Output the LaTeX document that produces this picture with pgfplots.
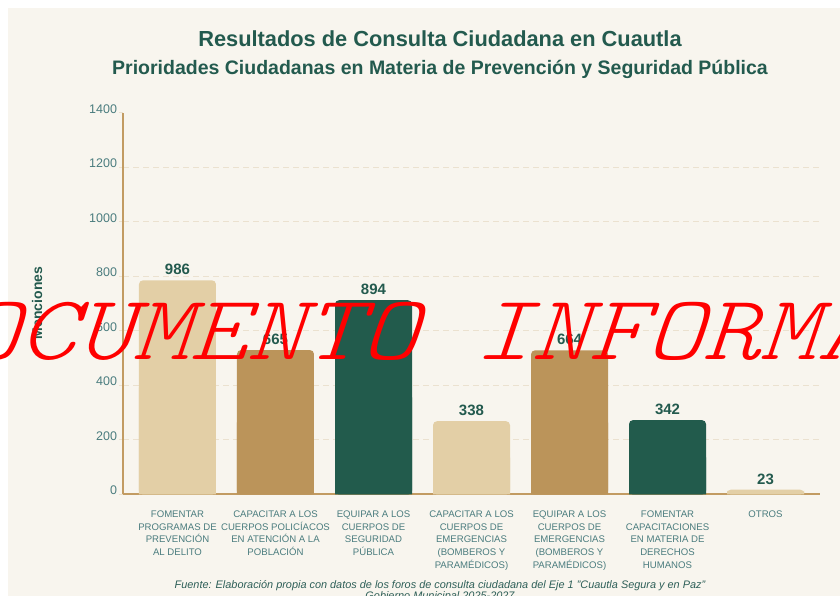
\documentclass[border=0pt]{standalone}
\usepackage{fontspec}
\setmainfont{Liberation Sans}
\newfontfamily\wmfont{lmmonolt10-oblique.otf}
\usepackage{pgfplots}
\pgfplotsset{compat=1.18}
\definecolor{bgc}{HTML}{F8F5EE}
\definecolor{titc}{HTML}{235A4E}
\definecolor{tickc}{HTML}{4A7C7E}
\definecolor{footc}{HTML}{2E5F58}
\definecolor{axc}{HTML}{C29B62}
\definecolor{gridc}{HTML}{EBE1CF}
\definecolor{lightb}{HTML}{E3CFA6}
\definecolor{tanb}{HTML}{BB945A}
\definecolor{greenb}{HTML}{225B4C}
\begin{document}
\begin{tikzpicture}[x=1bp,y=1bp]
\useasboundingbox (0,0) rectangle (840,596);
\clip (0,0) rectangle (840,596);
\fill[white] (0,0) rectangle (840,596);
\fill[bgc] (8,0) rectangle (840,588);
\node[font=\bfseries\fontsize{21.8bp}{22bp}\selectfont, text=titc, anchor=base] at (440,549) {Resultados de Consulta Ciudadana en Cuautla};
\node[font=\bfseries\fontsize{19.5bp}{20bp}\selectfont, text=titc, anchor=base] at (440,521) {Prioridades Ciudadanas en Materia de Prevención y Seguridad Pública};
\begin{axis}[
  at={(123bp,101.5bp)}, anchor=south west,
  width=697bp, height=381.5bp, scale only axis,
  xmin=-0.556, xmax=6.556, ymin=0, ymax=1400,
  axis x line*=bottom, axis y line*=left,
  axis line style={draw=axc, line width=2bp},
  ytick={0,200,...,1200},
  extra y ticks={1400},
  extra y tick style={grid=none},
  ymajorgrids,
  grid style={draw=gridc, line width=1bp, dash pattern=on 6bp off 4bp},
  tick align=outside,
  major tick length=4bp,
  ytick style={draw=gridc, line width=1bp},
  xtick style={draw=none},
  /pgf/number format/assume math mode=true,
  /pgf/number format/1000 sep={},
  yticklabel style={font=\fontsize{12.5bp}{14bp}\selectfont, text=tickc, yshift=4bp, xshift=1.5bp, /pgf/number format/1000 sep={}},
  extra y tick labels={1400},
  xtick={0,...,6},
  xticklabels={
    {FOMENTAR\\PROGRAMAS DE\\PREVENCIÓN\\AL DELITO},
    {CAPACITAR A LOS\\CUERPOS POLICÍACOS\\EN ATENCIÓN A LA\\POBLACIÓN},
    {EQUIPAR A LOS\\CUERPOS DE\\SEGURIDAD\\PÚBLICA},
    {CAPACITAR A LOS\\CUERPOS DE\\EMERGENCIAS\\(BOMBEROS Y\\PARAMÉDICOS)},
    {EQUIPAR A LOS\\CUERPOS DE\\EMERGENCIAS\\(BOMBEROS Y\\PARAMÉDICOS)},
    {FOMENTAR\\CAPACITACIONES\\EN MATERIA DE\\DERECHOS\\HUMANOS},
    {OTROS}},
  xticklabel style={align=center, font=\fontsize{9.6bp}{12.7bp}\selectfont, text=tickc, anchor=north, inner sep=0pt, yshift=-12bp},
  nodes near coords style={font=\bfseries\fontsize{15bp}{15bp}\selectfont, text=titc, anchor=south, inner sep=0pt, yshift=5bp},
  clip=false,
]
% light beige bars
\addplot[ybar, bar width=77bp, bar shift=0pt, fill=lightb, draw=none, rounded corners=4bp,
  nodes near coords, point meta=explicit symbolic]
  coordinates {(0,786) [986] (3,269) [338] (6,18) [23]};
\addplot[ybar, bar width=77bp, bar shift=0pt, fill=lightb, draw=none, forget plot]
  coordinates {(0,393) (3,135) (6,9)};
% tan bars
\addplot[ybar, bar width=77bp, bar shift=0pt, fill=tanb, draw=none, rounded corners=4bp,
  nodes near coords, point meta=explicit symbolic]
  coordinates {(1,530) [665] (4,529) [664]};
\addplot[ybar, bar width=77bp, bar shift=0pt, fill=tanb, draw=none, forget plot]
  coordinates {(1,265) (4,264)};
% green bars
\addplot[ybar, bar width=77bp, bar shift=0pt, fill=greenb, draw=none, rounded corners=4bp,
  nodes near coords, point meta=explicit symbolic]
  coordinates {(2,713) [894] (5,273) [342]};
\addplot[ybar, bar width=77bp, bar shift=0pt, fill=greenb, draw=none, forget plot]
  coordinates {(2,356) (5,136)};
\end{axis}
\node[rotate=90, font=\bfseries\fontsize{14bp}{14bp}\selectfont, text=titc] at (37,293) {Menciones};
\node[font=\itshape\fontsize{10.9bp}{11bp}\selectfont, text=footc, anchor=base] at (440,7) {Fuente: Elaboración propia con datos de los foros de consulta ciudadana del Eje 1 "Cuautla Segura y en Paz"};
\node[font=\itshape\fontsize{10.9bp}{11bp}\selectfont, text=footc, anchor=base] at (440,-4) {Gobierno Municipal 2025-2027};
\node[anchor=base west, inner sep=0pt, text=red, font=\wmfont\fontsize{92bp}{92bp}\selectfont, xscale=1.18, xslant=0.12] at (-96,236) {DOCUMENTO INFORMATIVO};
\end{tikzpicture}
\end{document}
